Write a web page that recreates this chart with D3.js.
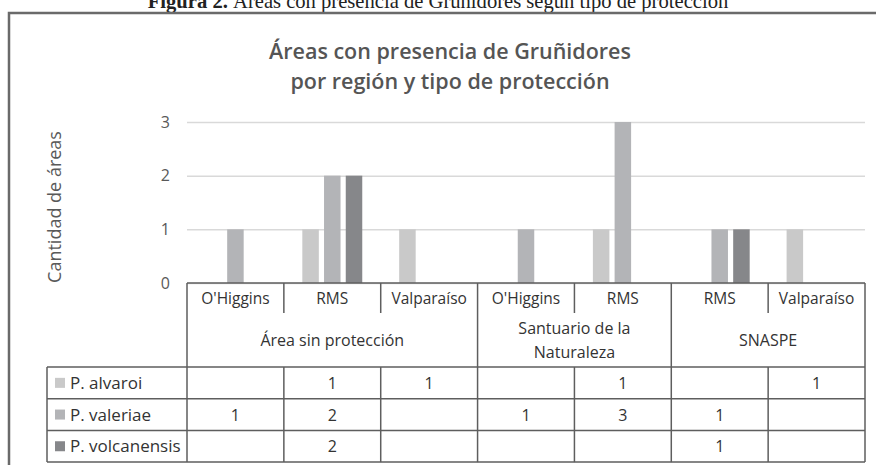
<!DOCTYPE html>
<html>
<head>
<meta charset="utf-8">
<style>
  body { margin: 0; background: #fff; }
  svg { display: block; }
  text { font-family: "Open Sans", sans-serif; }
</style>
</head>
<body>
<div id="chart"></div>
<script src="https://d3js.org/d3.v7.min.js"></script>
<script>
// data
const regions = ["O'Higgins", "RMS", "Valparaíso", "O'Higgins", "RMS", "RMS", "Valparaíso"];
const groups = [
  { name: ["Área sin protección"], span: 3 },
  { name: ["Santuario de la", "Naturaleza"], span: 2 },
  { name: ["SNASPE"], span: 2 }
];
const species = ["P. alvaroi", "P. valeriae", "P. volcanensis"];
const alvaroi     = [null, 1, 1, null, 1, null, 1];
const valeriae    = [1, 2, null, 1, 3, 1, null];
const volcanensis = [null, 2, null, null, null, 1, null];
const yTicks = [0, 1, 2, 3];
const colors = ["#c9c9c9", "#b3b4b7", "#86878a"];

const series = [alvaroi, valeriae, volcanensis];

const width = 876, height = 465;
const plot = { left: 187, right: 865, top: 122, bottom: 283 };
// table rows
const rowCat = 313, rowGroup = 367, rowH = 31.7;
const legendLeft = 47;
const lineCol = "#5e5e5e";
const textCol = "#333";
const fs = '16px';

const svg = d3.select('#chart').append('svg')
  .attr('width', width)
  .attr('height', height);

// caption above the frame (cut off by the page edge)
svg.append('text')
  .attr('x', 438)
  .attr('y', 8)
  .attr('text-anchor', 'middle')
  .style('font-family', '"Liberation Serif", serif')
  .style('font-size', '20.6px')
  .style('fill', '#222')
  .call(t => {
    t.append('tspan').style('font-weight', 'bold').text('Figura 2.');
    t.append('tspan').text(' Áreas con presencia de Gruñidores según tipo de protección');
  });

// outer frame
svg.append('rect')
  .attr('x', 9)
  .attr('y', 13)
  .attr('width', 900)
  .attr('height', 500)
  .attr('fill', 'none')
  .attr('stroke', '#6a6a6a')
  .attr('stroke-width', 2.5);

// title
const title = svg.append('text')
  .attr('text-anchor', 'middle')
  .style('font-size', '21.5px')
  .style('font-weight', 600)
  .style('fill', '#555');
title.append('tspan').attr('x', 450).attr('y', 59).text('Áreas con presencia de Gruñidores');
title.append('tspan').attr('x', 450).attr('y', 89).text('por región y tipo de protección');

// scales
const x = d3.scaleBand()
  .domain(d3.range(regions.length))
  .range([plot.left, plot.right])
  .padding(0);

const xs = d3.scaleBand()
  .domain(d3.range(species.length))
  .range([0, x.bandwidth()])
  .paddingInner(0.24)
  .paddingOuter(0.85);

const y = d3.scaleLinear()
  .domain([0, 3])
  .range([plot.bottom, plot.top]);

// gridlines + tick labels
const yAxis = d3.axisLeft(y)
  .tickValues(yTicks)
  .tickFormat(d3.format('d'))
  .tickSize(-(plot.right - plot.left))
  .tickPadding(17);

svg.append('g')
  .attr('transform', `translate(${plot.left},0)`)
  .call(yAxis)
  .call(g => g.select('.domain').remove())
  .call(g => g.selectAll('.tick line').attr('stroke', '#d9d9d9').attr('stroke-width', 1.5))
  .call(g => g.selectAll('.tick text')
    .style('font-family', '"Open Sans", sans-serif')
    .style('font-size', '16px')
    .attr('fill', '#595959'));

// y axis title
svg.append('text')
  .attr('transform', 'translate(61,207) rotate(-90)')
  .attr('text-anchor', 'middle')
  .style('font-size', '18px')
  .style('fill', '#595959')
  .text('Cantidad de áreas');

// bars
series.forEach((vals, si) => {
  svg.append('g')
    .selectAll('rect')
    .data(vals.map((v, i) => ({ i, v })).filter(d => d.v != null))
    .join('rect')
    .attr('x', d => x(d.i) + xs(si))
    .attr('width', xs.bandwidth())
    .attr('y', d => y(d.v))
    .attr('height', d => y(0) - y(d.v))
    .attr('fill', colors[si]);
});

// data table
const tbl = svg.append('g')
  .attr('stroke', lineCol)
  .attr('stroke-width', 1.5);

const rowsY = species.map((s, i) => rowGroup + i * rowH);
const tableBottom = rowGroup + species.length * rowH;

// group edges
let acc = 0;
const groupEdges = [0];
groups.forEach(g => { acc += g.span; groupEdges.push(acc); });
const edgeX = i => (i >= regions.length ? plot.right : x(i));

// top line of header
tbl.append('line').attr('x1', plot.left).attr('x2', plot.right).attr('y1', plot.bottom).attr('y2', plot.bottom);
// horizontal lines for data rows
[rowGroup, ...rowsY.slice(1), tableBottom].forEach(yy => {
  tbl.append('line').attr('x1', legendLeft).attr('x2', plot.right).attr('y1', yy).attr('y2', yy);
});
// legend column left edge
tbl.append('line').attr('x1', legendLeft).attr('x2', legendLeft).attr('y1', rowGroup).attr('y2', tableBottom);
// vertical dividers
d3.range(regions.length + 1).forEach(i => {
  const isGroupEdge = groupEdges.includes(i);
  const xx = edgeX(i);
  if (isGroupEdge) {
    tbl.append('line').attr('x1', xx).attr('x2', xx).attr('y1', plot.bottom).attr('y2', tableBottom);
  } else {
    tbl.append('line').attr('x1', xx).attr('x2', xx).attr('y1', plot.bottom).attr('y2', rowCat);
    tbl.append('line').attr('x1', xx).attr('x2', xx).attr('y1', rowGroup).attr('y2', tableBottom);
  }
});

// category labels
svg.append('g')
  .selectAll('text')
  .data(regions)
  .join('text')
  .attr('x', (d, i) => x(i) + x.bandwidth() / 2)
  .attr('y', (plot.bottom + rowCat) / 2 + 5.5)
  .attr('text-anchor', 'middle')
  .style('font-size', '15.5px')
  .style('fill', textCol)
  .text(d => d);

// group labels
groups.forEach((g, gi) => {
  const x0 = edgeX(groupEdges[gi]), x1 = edgeX(groupEdges[gi + 1]);
  const cy = (rowCat + rowGroup) / 2;
  const t = svg.append('text')
    .attr('text-anchor', 'middle')
    .style('font-size', fs)
    .style('fill', textCol);
  g.name.forEach((line, li) => {
    t.append('tspan')
      .attr('x', (x0 + x1) / 2)
      .attr('y', cy + 6 + (li - (g.name.length - 1) / 2) * 24)
      .text(line);
  });
});

// legend keys + values
species.forEach((s, si) => {
  const cy = rowsY[si] + rowH / 2;
  svg.append('rect')
    .attr('x', 55)
    .attr('y', cy - 5)
    .attr('width', 10)
    .attr('height', 10)
    .attr('fill', colors[si]);
  svg.append('text')
    .attr('x', 70)
    .attr('y', cy + 6)
    .style('font-size', '17px')
    .style('fill', textCol)
    .text(s);
  svg.append('g')
    .selectAll('text')
    .data(series[si].map((v, i) => ({ i, v })).filter(d => d.v != null))
    .join('text')
    .attr('x', d => x(d.i) + x.bandwidth() / 2)
    .attr('y', cy + 6)
    .attr('text-anchor', 'middle')
    .style('font-size', fs)
    .style('fill', textCol)
    .text(d => d.v);
});
</script>
</body>
</html>
